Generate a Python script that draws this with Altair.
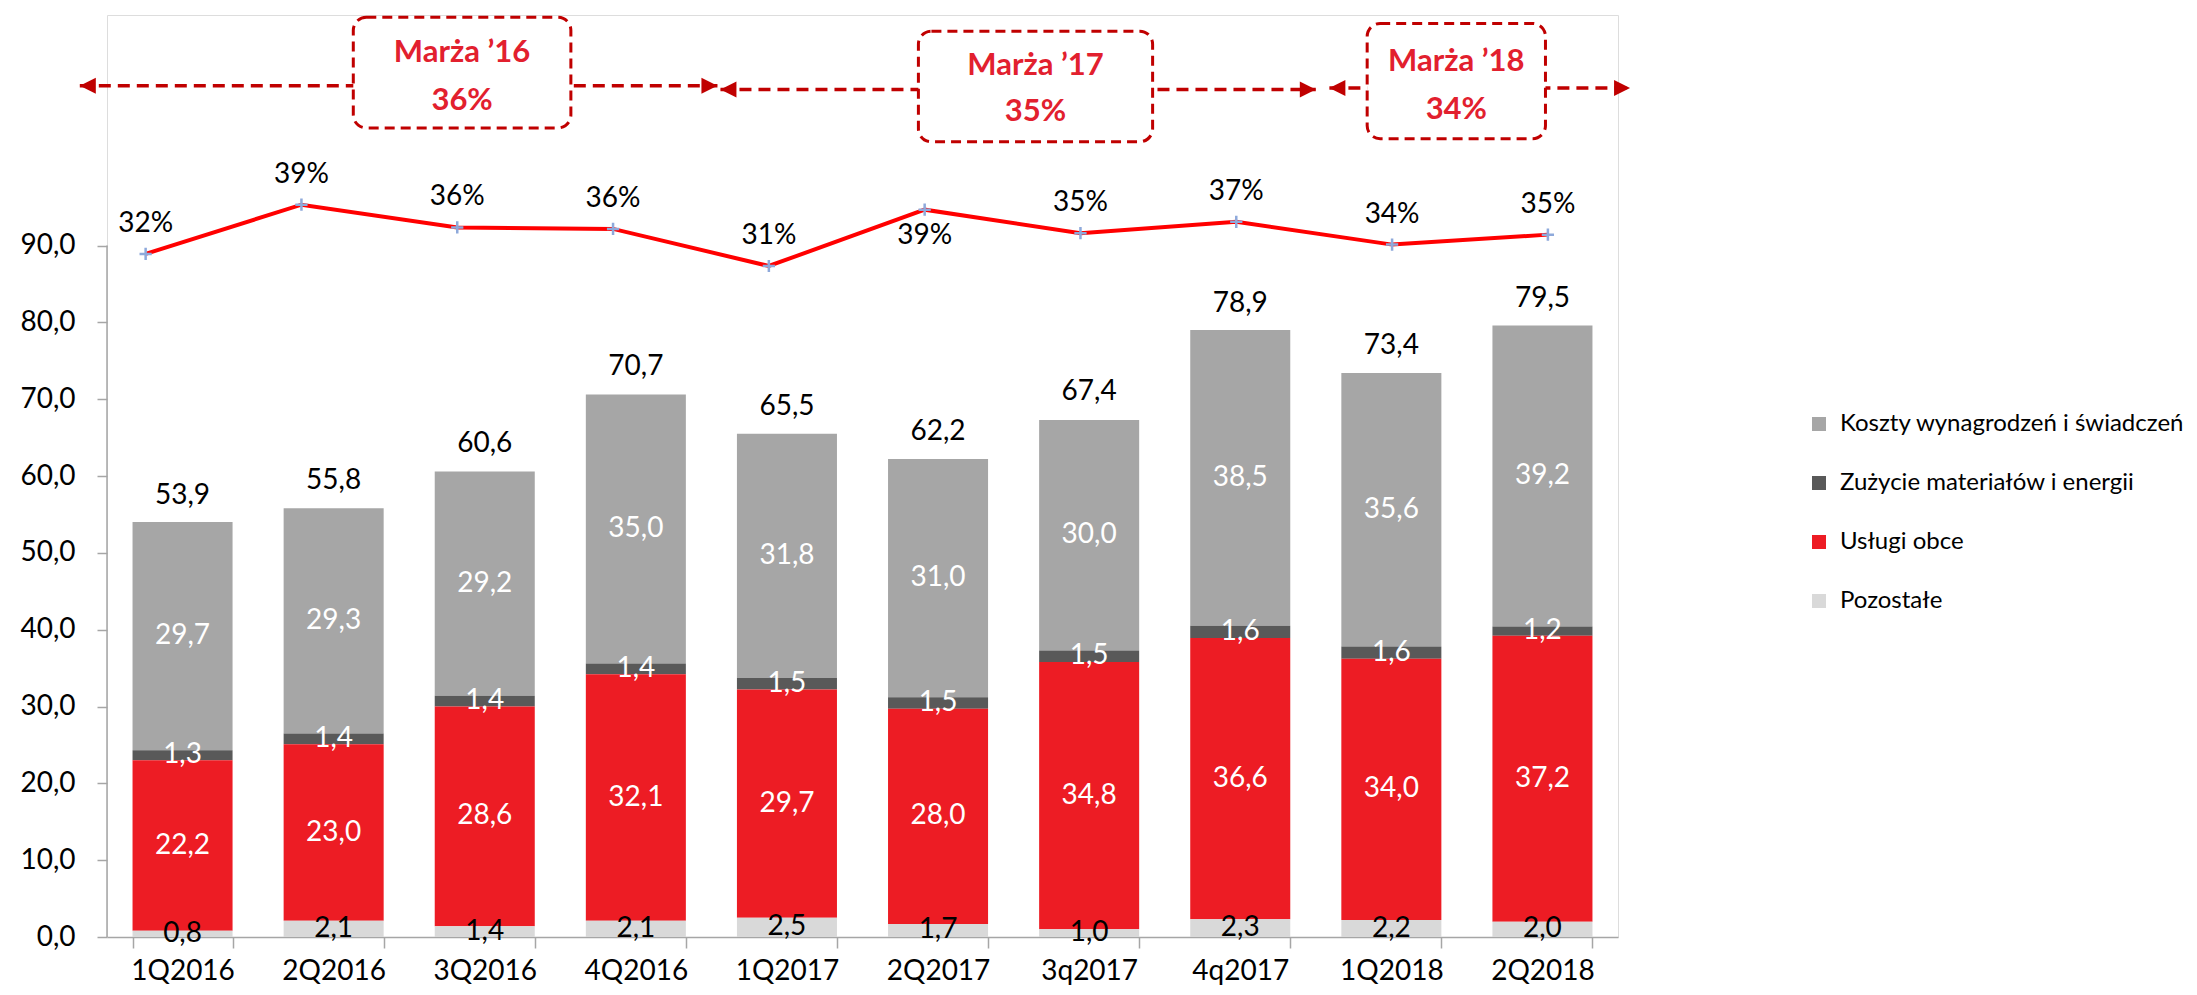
import altair as alt
import pandas as pd

# ---------------- data ----------------
quarters = ["1Q2016", "2Q2016", "3Q2016", "4Q2016", "1Q2017",
            "2Q2017", "3q2017", "4q2017", "1Q2018", "2Q2018"]
series_names = ["Koszty wynagrodzeń i świadczeń", "Zużycie materiałów i energii",
                "Usługi obce", "Pozostałe"]
koszty = [29.7, 29.3, 29.2, 35.0, 31.8, 31.0, 30.0, 38.5, 35.6, 39.2]
zuzycie = [1.3, 1.4, 1.4, 1.4, 1.5, 1.5, 1.5, 1.6, 1.6, 1.2]
uslugi = [22.2, 23.0, 28.6, 32.1, 29.7, 28.0, 34.8, 36.6, 34.0, 37.2]
pozostale = [0.8, 2.1, 1.4, 2.1, 2.5, 1.7, 1.0, 2.3, 2.2, 2.0]
totals = [53.9, 55.8, 60.6, 70.7, 65.5, 62.2, 67.4, 78.9, 73.4, 79.5]
margin = [32.4, 39.3, 36.1, 35.9, 30.7, 38.6, 35.3, 36.9, 33.7, 35.1]
margin_label_side = ["above", "above", "above", "above", "above",
                     "below", "above", "above", "above", "above"]
y_ticks = [0, 10, 20, 30, 40, 50, 60, 70, 80, 90]

period_titles = ["Marża \u201916", "Marża \u201917", "Marża \u201918"]
period_margins = ["36%", "35%", "34%"]

# ---------------- annotation layout (quarter units / value units) ----------------
arrow_start = [-0.18, 4.06, 8.09]
arrow_end = [4.04, 8.00, 10.08]
arrow_y = [110.8, 110.3, 110.5]
box_x0 = [1.63, 5.37, 8.34]
box_x1 = [3.07, 6.92, 9.52]
box_y0 = [105.3, 103.5, 103.9]
box_y1 = [119.7, 117.9, 118.9]
title_y = [115.1, 113.4, 113.9]
value_y = [108.8, 107.4, 107.6]

# ---------------- styles ----------------
FONT = "Lato"
series_colors = ["#A6A6A6", "#595959", "#ED1C24", "#D9D9D9"]
AXIS_GRAY = "#A6A6A6"
DARK_RED = "#C00000"
TEXT_RED = "#E2202E"
Y_MAX = 120
LINE_X_DOMAIN = [-0.248, 9.45]
LINE_Y_DOMAIN = [-63.4, 65.9]

# ---------------- tables ----------------
series_values = [koszty, zuzycie, uslugi, pozostale]
stack_order = {series_names[0]: 3, series_names[1]: 2, series_names[2]: 1, series_names[3]: 0}
rows = []
for s, vals in zip(series_names, series_values):
    for q, v in zip(quarters, vals):
        rows.append({"quarter": q, "series": s, "value": v, "order": stack_order[s]})
df_bars = pd.DataFrame(rows)
df_tot = pd.DataFrame({"quarter": quarters, "total": totals})
df_line = pd.DataFrame({"idx": list(range(len(quarters))), "quarter": quarters,
                        "margin": margin, "side": margin_label_side})
df_axis = pd.DataFrame({"y0": [min(y_ticks)], "y1": [max(y_ticks)]})
df_ann = pd.DataFrame({
    "title": period_titles, "val": period_margins,
    "ax0": arrow_start, "ax1": arrow_end, "ay": arrow_y,
    "bx0": box_x0, "bx1": box_x1, "by0": box_y0, "by1": box_y1,
    "ty": title_y, "vy": value_y,
})
df_ann["tx"] = (df_ann["bx0"] + df_ann["bx1"]) / 2

fmt_expr = "replace(format({}, '.1f'), '.', ',')"

# ---------------- bar group ----------------
y_scale = alt.Scale(domain=[0, Y_MAX], nice=False, zero=True)
x_scale = alt.Scale(domain=quarters, paddingInner=0.338, paddingOuter=0.169)

x_enc = alt.X("quarter:N", sort=quarters, scale=x_scale,
              axis=alt.Axis(title=None, labelAngle=0, labelFont=FONT, labelFontSize=28,
                            labelColor="black", labelPadding=9, domainColor=AXIS_GRAY,
                            domainWidth=1.5, tickColor=AXIS_GRAY, tickWidth=1.5,
                            tickSize=11, tickBand="extent"))
x_plain = alt.X("quarter:N", sort=quarters, scale=x_scale)

stacked = alt.Chart(df_bars).transform_stack(
    stack="value", groupby=["quarter"], as_=["v0", "v1"],
    sort=[alt.SortField("order", order="ascending")]
)

bars = stacked.mark_bar().encode(
    x=x_enc,
    y=alt.Y("v0:Q", scale=y_scale,
            axis=alt.Axis(title=None, values=y_ticks, grid=False, domain=False,
                          labelExpr=fmt_expr.format("datum.value"),
                          labelFont=FONT, labelFontSize=28, labelColor="black",
                          labelPadding=22, tickColor=AXIS_GRAY, tickWidth=1.5,
                          tickSize=10)),
    y2="v1:Q",
    color=alt.Color("series:N", scale=alt.Scale(domain=series_names, range=series_colors),
                    legend=alt.Legend(title=None, orient="none", legendX=1700, legendY=397,
                                      symbolType="square", symbolSize=196,
                                      symbolStrokeWidth=0, labelFont=FONT,
                                      labelFontSize=24, labelColor="black",
                                      rowPadding=35, labelOffset=9, padding=0,
                                      labelLimit=500)),
)

inside = stacked.transform_calculate(
    mid="(datum.v0 + datum.v1) / 2",
    lbl=fmt_expr.format("datum.value"),
).mark_text(font=FONT, fontSize=28, baseline="middle", align="center").encode(
    x=x_plain,
    y=alt.Y("mid:Q", scale=y_scale),
    text="lbl:N",
    color=alt.condition(alt.datum.series == series_names[3], alt.value("black"),
                        alt.value("white")),
)

tot = alt.Chart(df_tot).transform_calculate(
    lbl=fmt_expr.format("datum.total")
).mark_text(font=FONT, fontSize=28, baseline="middle", align="center", dy=-27,
            color="black").encode(
    x=x_plain,
    y=alt.Y("total:Q", scale=y_scale),
    text="lbl:N",
)

yaxis_line = alt.Chart(df_axis).mark_rule(color=AXIS_GRAY, strokeWidth=1.5).encode(
    x=alt.value(0),
    y=alt.Y("y0:Q", scale=y_scale),
    y2="y1:Q",
)

bar_group = alt.layer(bars, inside, tot, yaxis_line)

# ---------------- line group ----------------
xl = alt.X("idx:Q", scale=alt.Scale(domain=LINE_X_DOMAIN, nice=False, zero=False), axis=None)
yl = alt.Y("margin:Q", scale=alt.Scale(domain=LINE_Y_DOMAIN, nice=False, zero=False), axis=None)
line_base = alt.Chart(df_line)
line = line_base.mark_line(color="#FF0000", strokeWidth=4).encode(x=xl, y=yl)
pts = line_base.mark_point(shape="M-1,0H1M0,-1V1", size=150, filled=False,
                           stroke="#8EA9DB", strokeWidth=2.5, opacity=1).encode(x=xl, y=yl)
pct_lbl = "format(datum.margin, '.0f') + '%'"
lbl_above = line_base.transform_filter(alt.datum.side == "above").transform_calculate(
    lbl=pct_lbl).mark_text(font=FONT, fontSize=28, baseline="middle", dy=-30,
                           color="black").encode(x=xl, y=yl, text="lbl:N")
lbl_below = line_base.transform_filter(alt.datum.side == "below").transform_calculate(
    lbl=pct_lbl).mark_text(font=FONT, fontSize=28, baseline="middle", dy=26,
                           color="black").encode(x=xl, y=yl, text="lbl:N")
line_group = alt.layer(line, pts, lbl_above, lbl_below)

# ---------------- annotation group ----------------
xa_scale = alt.Scale(domain=[0, len(quarters)], nice=False, zero=False)
ya_scale = alt.Scale(domain=[0, Y_MAX], nice=False, zero=True)
ann = alt.Chart(df_ann)
arrows = ann.mark_rule(color=DARK_RED, strokeWidth=3.5, strokeDash=[12, 7]).encode(
    x=alt.X("ax0:Q", scale=xa_scale, axis=None), x2="ax1:Q",
    y=alt.Y("ay:Q", scale=ya_scale, axis=None),
)
head_l = ann.mark_point(shape="M-1,0L1,-1L1,1Z", size=256, filled=True, color=DARK_RED,
                        opacity=1, xOffset=8).encode(
    x=alt.X("ax0:Q", scale=xa_scale, axis=None),
    y=alt.Y("ay:Q", scale=ya_scale, axis=None),
)
head_r = ann.mark_point(shape="M1,0L-1,-1L-1,1Z", size=256, filled=True, color=DARK_RED,
                        opacity=1, xOffset=-8).encode(
    x=alt.X("ax1:Q", scale=xa_scale, axis=None),
    y=alt.Y("ay:Q", scale=ya_scale, axis=None),
)
boxes = ann.mark_rect(fill="white", stroke=DARK_RED, strokeWidth=3, strokeDash=[10, 6],
                      cornerRadius=13).encode(
    x=alt.X("bx0:Q", scale=xa_scale, axis=None), x2="bx1:Q",
    y=alt.Y("by0:Q", scale=ya_scale, axis=None), y2="by1:Q",
)
t_title = ann.mark_text(font=FONT, fontSize=31, fontWeight="bold", color=TEXT_RED,
                        baseline="middle").encode(
    x=alt.X("tx:Q", scale=xa_scale, axis=None),
    y=alt.Y("ty:Q", scale=ya_scale, axis=None),
    text="title:N",
)
t_val = ann.mark_text(font=FONT, fontSize=31, fontWeight="bold", color=TEXT_RED,
                      baseline="middle").encode(
    x=alt.X("tx:Q", scale=xa_scale, axis=None),
    y=alt.Y("vy:Q", scale=ya_scale, axis=None),
    text="val:N",
)
ann_group = alt.layer(arrows, head_l, head_r, boxes, t_title, t_val)

chart = alt.layer(bar_group, line_group, ann_group).resolve_scale(
    x="independent", y="independent"
).properties(
    width=1511, height=922,
    padding={"left": 99, "top": 7, "right": 571, "bottom": 50},
    autosize=alt.AutoSizeParams(type="none"),
).configure_view(stroke=None).configure(font=FONT)

chart.save("out.html", embed_options={"renderer": "svg", "actions": False})
